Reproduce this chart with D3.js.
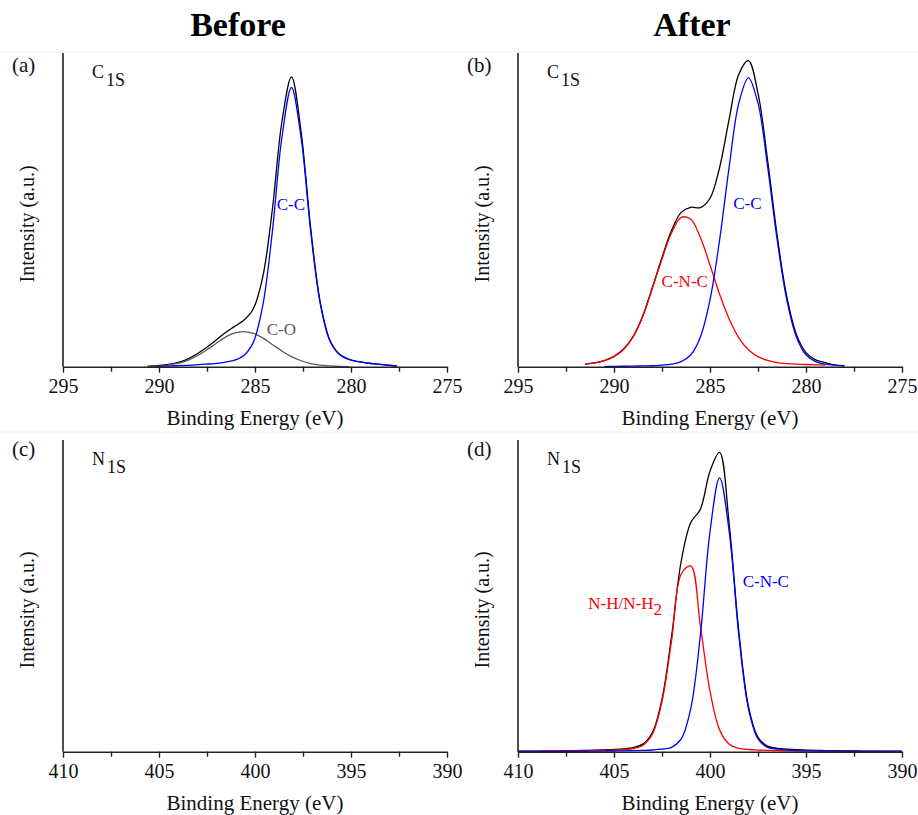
<!DOCTYPE html>
<html>
<head>
<meta charset="utf-8">
<script src="https://cdn.jsdelivr.net/npm/d3@7"></script>
<style>
  body { margin: 0; background: #fff; }
  svg { display: block; }
  text { font-family: "Liberation Serif", "Times New Roman", serif; }
</style>
</head>
<body>
<svg class="chart"></svg>
<script>
// C1s, before (panel a)
var energyA = [290.6, 290.1, 289.6, 289.1, 288.6, 288.1, 287.6, 287.1, 286.6, 286.1, 285.6, 285.1, 284.6, 284.1,
               283.6, 283.1, 282.6, 282.1, 281.6, 281.1, 280.6, 280.1, 279.6, 279.1, 278.6, 278.1, 277.6];
var envA = [0.1, 0.3, 0.65, 1.25, 2.2, 3.8, 5.8, 8.1, 10.6, 12.7, 14.7, 18.3, 28.5, 49.9,
            78.0, 92.4, 74.9, 44.2, 20.5, 8.45, 4.0, 2.35, 1.6, 1.1, 0.8, 0.5, 0.2];
var coA = [0.1, 0.2, 0.45, 0.95, 1.8, 3.2, 5.0, 7.1, 9.2, 10.7, 11.2, 10.7, 9.2, 7.1,
           5.0, 3.2, 1.9, 1.0, 0.5, 0.25, 0.1, 0.05, null, null, null, null, null];
var ccA = [null, 0.1, 0.2, 0.3, 0.4, 0.6, 0.8, 1.0, 1.4, 2.0, 3.5, 7.6, 19.3, 42.8,
           73.0, 89.0, 73.0, 43.2, 20.0, 8.2, 3.9, 2.3, 1.6, 1.1, 0.8, 0.5, 0.2];

// C1s, after (panel b)
var energyB = [291.5, 291, 290.5, 290, 289.5, 289, 288.5, 288, 287.5, 287, 286.5, 286, 285.5, 285,
               284.5, 284, 283.5, 283, 282.5, 282, 281.5, 281, 280.5, 280, 279.5, 279, 278.5, 278];
var envB = [0.8, 1.2, 1.95, 3.3, 5.65, 9.7, 16.25, 25.3, 34.8, 43.5, 49.2, 50.8, 50.7, 53.7,
            63.5, 79.0, 93.2, 97.6, 87.2, 65.8, 41.7, 22.3, 10.3, 4.5, 2.2, 1.3, 0.5, 0.3];
var cncB = [0.8, 1.2, 1.9, 3.2, 5.5, 9.5, 16.0, 25.0, 34.3, 42.7, 47.6, 47.0, 41.2, 32.4,
            23.1, 15.2, 9.2, 5.4, 3.2, 2.0, 1.3, 1.0, 0.8, 0.7, 0.6, 0.5, null, null];
var ccB = [null, null, 0.05, 0.1, 0.15, 0.2, 0.25, 0.3, 0.5, 0.8, 1.6, 3.8, 9.5, 21.3,
           40.4, 63.8, 84.0, 92.1, 84.0, 63.8, 40.4, 21.3, 9.5, 3.8, 1.6, 0.8, 0.5, 0.3];

// N1s, after (panel d); panel c has no data
var energyD = [410, 409.5, 409, 408.5, 408, 407.5, 407, 406.5, 406, 405.5, 405, 404.5, 404, 403.5,
               403, 402.5, 402, 401.5, 401, 400.5, 400, 399.5, 399, 398.5, 398, 397.5, 397, 396.5,
               396, 395.5, 395, 394.5, 394, 393.5, 393, 392.5, 392, 391.5, 391, 390.5, 390];
var envD = [0.16, 0.18, 0.2, 0.23, 0.26, 0.3, 0.35, 0.43, 0.51, 0.61, 0.73, 0.93, 1.34, 2.42,
            6.15, 16.9, 37.1, 61.1, 73.5, 77.8, 90.0, 96.0, 73.0, 38.6, 14.6, 4.6, 1.8, 1.1,
            0.83, 0.64, 0.53, 0.43, 0.37, 0.31, 0.27, 0.24, 0.21, 0.19, 0.17, 0.15, 0.14];
var nhD = [0.08, 0.1, 0.11, 0.13, 0.15, 0.18, 0.22, 0.28, 0.34, 0.42, 0.5, 0.66, 1.0, 2.0,
           5.6, 16.1, 35.7, 57.0, 59.6, 40.3, 19.4, 7.0, 2.4, 1.1, 0.7, 0.53, 0.42, 0.34,
           0.28, 0.22, 0.19, 0.16, 0.14, 0.12, 0.1, 0.09, 0.08, 0.07, 0.06, 0.05, 0.05];
var cncD = [0.08, 0.08, 0.09, 0.1, 0.11, 0.12, 0.13, 0.15, 0.17, 0.19, 0.23, 0.27, 0.34, 0.42,
            0.55, 0.8, 1.4, 4.1, 13.9, 37.5, 70.6, 87.9, 70.6, 37.5, 13.9, 4.1, 1.4, 0.8,
            0.55, 0.42, 0.34, 0.27, 0.23, 0.19, 0.17, 0.15, 0.13, 0.12, 0.11, 0.1, 0.09];

var ticksC = [295, 290, 285, 280, 275];
var minorC = [292.5, 287.5, 282.5, 277.5];
var ticksN = [410, 405, 400, 395, 390];
var minorN = [407.5, 402.5, 397.5, 392.5];

var BLUE = "#0000ff", RED = "#ff0000", GREY = "#595959";

var width = 918, height = 815;
var svg = d3.select("svg.chart")
            .attr("width", width)
            .attr("height", height);

// faint borders left over from the stitched sub-figures
svg.append("line").attr("x1", 0).attr("x2", width).attr("y1", 52).attr("y2", 52)
   .attr("stroke", "#f1f1f1");
svg.append("line").attr("x1", 0).attr("x2", width).attr("y1", 432).attr("y2", 432)
   .attr("stroke", "#f1f1f1");

svg.append("text").text("Before")
   .attr("x", 238).attr("y", 36)
   .attr("text-anchor", "middle")
   .attr("font-size", 34).attr("font-weight", "bold");
svg.append("text").text("After")
   .attr("x", 692).attr("y", 36)
   .attr("text-anchor", "middle")
   .attr("font-size", 34).attr("font-weight", "bold");

var panels = [
  {left: 63, top: 53, bottom: 366.7, domain: [295, 275], ticks: ticksC, minor: minorC,
   tag: "(a)", tagY: 71.5, elem: "C", sub: "1S",
   energy: energyA,
   series: [{v: envA, c: "#000"}, {v: coA, c: GREY}, {v: ccA, c: BLUE}],
   notes: [{t: "C-C", e: 283.87, i: 50.0, c: BLUE}, {t: "C-O", e: 284.39, i: 10.1, c: GREY}]},
  {left: 518, top: 53, bottom: 366.7, domain: [295, 275], ticks: ticksC, minor: minorC,
   tag: "(b)", tagY: 71.5, elem: "C", sub: "1S",
   energy: energyB,
   series: [{v: envB, c: "#000"}, {v: cncB, c: RED}, {v: ccB, c: BLUE}],
   notes: [{t: "C-C", e: 283.79, i: 50.3, c: BLUE}, {t: "C-N-C", e: 287.52, i: 25.5, c: RED}]},
  {left: 63, top: 440, bottom: 751.7, domain: [410, 390], ticks: ticksN, minor: minorN,
   tag: "(c)", tagY: 456, elem: "N", sub: "1S",
   energy: [], series: [], notes: []},
  {left: 518, top: 440, bottom: 751.7, domain: [410, 390], ticks: ticksN, minor: minorN,
   tag: "(d)", tagY: 456, elem: "N", sub: "1S",
   energy: energyD,
   series: [{v: envD, c: "#000"}, {v: nhD, c: RED}, {v: cncD, c: BLUE}],
   notes: [{t: "N-H/N-H", s: "2", e: 406.34, i: 45.7, c: RED}, {t: "C-N-C", e: 398.3, i: 52.9, c: BLUE}]}
];

panels.forEach(drawPanel);

function drawPanel(p){
  var g = svg.append("g");
  var xScale = d3.scaleLinear().domain(p.domain).range([p.left, p.left + 384]);
  var yScale = d3.scaleLinear().domain([0, 100]).range([p.bottom, p.top]);

  // curves
  p.series.forEach(function(s){
    var pts = p.energy.map(function(e, i){ return [e, s.v[i]]; });
    var line = d3.line()
                 .defined(function(d){ return d[1] != null; })
                 .x(function(d){ return xScale(d[0]); })
                 .y(function(d){ return yScale(d[1]); })
                 .curve(d3.curveCatmullRom.alpha(0.5));
    g.append("path")
     .datum(pts)
     .attr("d", line)
     .attr("fill", "none")
     .attr("stroke", s.c)
     .attr("stroke-width", 1.3);
  });

  // minor ticks
  g.append("g")
   .attr("transform", "translate(0," + p.bottom + ")")
   .call(d3.axisBottom(xScale).tickValues(p.minor).tickFormat("").tickSize(5).tickSizeOuter(0))
   .call(function(a){
     a.select(".domain").remove();
     a.selectAll("line").attr("stroke", "#222").attr("stroke-width", 1.4);
   });

  // major ticks + axis line
  var xAxis = d3.axisBottom(xScale).tickValues(p.ticks).tickSize(6).tickSizeOuter(0)
                .tickFormat(d3.format("d"));
  g.append("g")
   .attr("transform", "translate(0," + p.bottom + ")")
   .call(xAxis)
   .call(function(a){
     a.select(".domain").attr("stroke", "#222").attr("stroke-width", 1.6);
     a.selectAll("line").attr("stroke", "#222").attr("stroke-width", 1.4);
     a.selectAll("text")
      .attr("dy", null)
      .attr("y", 26.5)
      .attr("fill", "#111")
      .attr("font-size", 20)
      .attr("font-family", "'Liberation Serif', 'Times New Roman', serif");
   });

  // y axis line only
  g.append("line")
   .attr("x1", p.left).attr("x2", p.left)
   .attr("y1", p.top).attr("y2", p.bottom)
   .attr("stroke", "#222").attr("stroke-width", 1.6);

  g.append("text").text("Binding Energy (eV)")
   .attr("x", p.left + 192).attr("y", p.bottom + 58)
   .attr("text-anchor", "middle").attr("font-size", 21).attr("fill", "#111");

  var cy = (p.top + p.bottom) / 2 + 14;
  g.append("text").text("Intensity (a.u.)")
   .attr("transform", "translate(" + (p.left - 29) + "," + cy + ") rotate(-90)")
   .attr("text-anchor", "middle").attr("font-size", 20).attr("fill", "#111");

  g.append("text").text(p.tag)
   .attr("x", p.left - 51).attr("y", p.tagY)
   .attr("font-size", 21).attr("fill", "#111");

  var el = g.append("text")
            .attr("x", p.left + 29).attr("y", p.top + 25)
            .attr("font-size", 18).attr("fill", "#111");
  el.append("tspan").text(p.elem);
  el.append("tspan").text(p.sub).attr("dx", 2).attr("dy", 8);

  p.notes.forEach(function(n){
    var t = g.append("text")
             .attr("x", xScale(n.e)).attr("y", yScale(n.i))
             .attr("font-size", 17).attr("fill", n.c);
    t.append("tspan").text(n.t);
    if(n.s){
      t.append("tspan").text(n.s).attr("dy", 6);
    }
  });
}
</script>
</body>
</html>
